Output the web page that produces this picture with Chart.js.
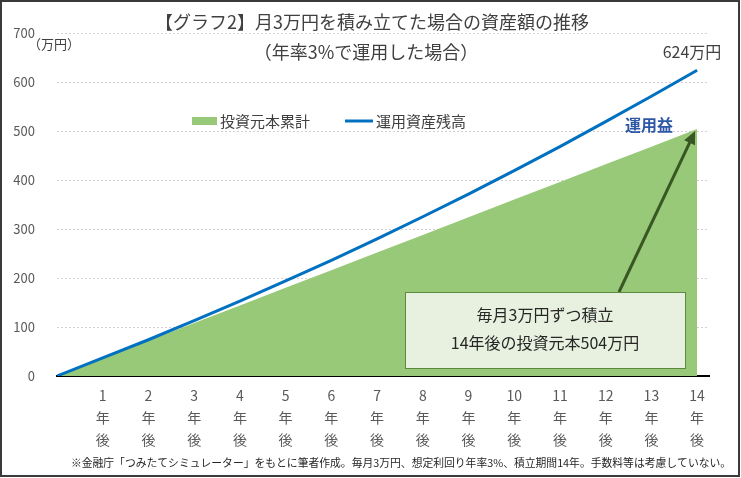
<!DOCTYPE html>
<html lang="ja">
<head>
  <meta charset="UTF-8">
  <title>月3万円を積み立てた場合の資産額の推移</title>
  <script src="https://cdn.jsdelivr.net/npm/chart.js"></script>
  <style>
    body { margin: 0; background: #fff; }
    canvas { display: block; }
  </style>
</head>
<body>
  <canvas id="chart" width="741" height="478"></canvas>

  <script>
    const years = [0, 1, 2, 3, 4, 5, 6, 7, 8, 9, 10, 11, 12, 13, 14];
    const yearLabels = ["", "1年後", "2年後", "3年後", "4年後", "5年後", "6年後", "7年後",
      "8年後", "9年後", "10年後", "11年後", "12年後", "13年後", "14年後"];
    // 投資元本累計 (万円)
    const principal = [0, 36, 72, 108, 144, 180, 216, 252, 288, 324, 360, 396, 432, 468, 504];
    // 運用資産残高 (万円)
    const balance = [0, 37, 74, 113, 153, 194, 236, 280, 325, 371, 419, 468, 519, 571, 624];
    const yTicks = [0, 100, 200, 300, 400, 500, 600, 700];

    const font = '"Noto Sans CJK JP", "Noto Sans", sans-serif';
    const gray = "#595959";
    const green = "#98c978";
    const blue = "#0070c0";

    const extras = {
      id: "extras",
      afterDraw(chart) {
        const ctx = chart.ctx;
        const xs = chart.scales.x, ys = chart.scales.y;
        const last = years.length - 1;
        ctx.save();

        // titles
        ctx.fillStyle = "#404040";
        ctx.textAlign = "center";
        ctx.textBaseline = "middle";
        ctx.font = "18px " + font;
        ctx.fillText("【グラフ2】月3万円を積み立てた場合の資産額の推移", 372, 22);
        ctx.fillText("（年率3%で運用した場合）", 366, 52);

        // unit
        ctx.font = "13px " + font;
        ctx.textAlign = "left";
        ctx.fillText("（万円）", 28, 44);

        // end value label
        ctx.font = "16px " + font;
        ctx.textAlign = "center";
        ctx.fillText(balance[last] + "万円", 692, 52);

        // 運用益
        ctx.fillStyle = "#2e58a6";
        ctx.font = "bold 16px " + font;
        ctx.fillText("運用益", 649, 125);

        // legend
        ctx.fillStyle = green;
        ctx.fillRect(192, 117, 25, 8);
        ctx.strokeStyle = blue;
        ctx.lineWidth = 3;
        ctx.beginPath();
        ctx.moveTo(345, 121);
        ctx.lineTo(373, 121);
        ctx.stroke();
        ctx.fillStyle = "#404040";
        ctx.font = "15px " + font;
        ctx.textAlign = "left";
        ctx.fillText("投資元本累計", 220, 121);
        ctx.fillText("運用資産残高", 376, 121);

        // arrow to principal end
        const tipX = xs.getPixelForValue(years[last]) - 2;
        const tipY = ys.getPixelForValue(principal[last]) + 2;
        const fromX = 619, fromY = 292;
        const ang = Math.atan2(tipY - fromY, tipX - fromX);
        ctx.strokeStyle = "#385723";
        ctx.fillStyle = "#385723";
        ctx.lineWidth = 3;
        ctx.beginPath();
        ctx.moveTo(fromX, fromY);
        ctx.lineTo(tipX - 10 * Math.cos(ang), tipY - 10 * Math.sin(ang));
        ctx.stroke();
        ctx.beginPath();
        ctx.moveTo(tipX, tipY);
        ctx.lineTo(tipX - 13 * Math.cos(ang) + 6 * Math.sin(ang), tipY - 13 * Math.sin(ang) - 6 * Math.cos(ang));
        ctx.lineTo(tipX - 13 * Math.cos(ang) - 6 * Math.sin(ang), tipY - 13 * Math.sin(ang) + 6 * Math.cos(ang));
        ctx.closePath();
        ctx.fill();

        // note box
        ctx.fillStyle = "#e8f1df";
        ctx.fillRect(405, 292, 281, 77);
        ctx.strokeStyle = "#5b8a3f";
        ctx.lineWidth = 1;
        ctx.strokeRect(405.5, 292.5, 280, 76);
        ctx.fillStyle = "#262626";
        ctx.font = "16px " + font;
        ctx.textAlign = "center";
        ctx.fillText("毎月3万円ずつ積立", 545, 315);
        ctx.fillText("14年後の投資元本" + principal[last] + "万円", 545, 343);

        // footnote
        ctx.fillStyle = "#262626";
        ctx.font = "10.8px " + font;
        ctx.fillText("※金融庁「つみたてシミュレーター」をもとに筆者作成。毎月3万円、想定利回り年率3%、積立期間14年。手数料等は考慮していない。", 401, 463);

        // frame
        ctx.strokeStyle = "#3a3a3a";
        ctx.lineWidth = 2;
        ctx.strokeRect(1, 1, 738, 475);
        ctx.restore();
      }
    };

    new Chart(document.getElementById("chart"), {
      type: "line",
      data: {
        datasets: [
          {
            label: "運用資産残高",
            data: years.map((y, i) => ({ x: y, y: balance[i] })),
            borderColor: blue,
            borderWidth: 3,
            pointRadius: 0,
            fill: false,
            tension: 0
          },
          {
            label: "投資元本累計",
            data: years.map((y, i) => ({ x: y, y: principal[i] })),
            borderWidth: 0,
            borderColor: green,
            backgroundColor: green,
            pointRadius: 0,
            fill: "origin"
          }
        ]
      },
      options: {
        responsive: false,
        animation: false,
        layout: { padding: { top: 33, right: 32, left: 0, bottom: 0 } },
        plugins: { legend: { display: false }, tooltip: { enabled: false } },
        scales: {
          x: {
            type: "linear",
            min: 0,
            max: 14.26,
            afterBuildTicks: s => { s.ticks = years.slice(1).map(v => ({ value: v })); },
            afterFit: s => { s.height = 102; },
            grid: { display: false, drawTicks: false },
            border: { color: "#000", width: 2 },
            ticks: {
              autoSkip: false,
              maxRotation: 0,
              padding: 8,
              color: gray,
              font: { family: font, size: 14, lineHeight: 1.6 },
              callback: v => yearLabels[v].match(/\d+|\D/g)
            }
          },
          y: {
            min: 0,
            max: 700,
            afterBuildTicks: s => { s.ticks = yTicks.map(v => ({ value: v })); },
            afterFit: s => { s.width = 57; },
            grid: { color: "#d6cdd6", drawTicks: false, lineWidth: 1 },
            border: { display: false, dash: [2, 2] },
            ticks: {
              padding: 22,
              color: gray,
              font: { family: font, size: 13 }
            }
          }
        }
      },
      plugins: [extras]
    });
  </script>
</body>
</html>
